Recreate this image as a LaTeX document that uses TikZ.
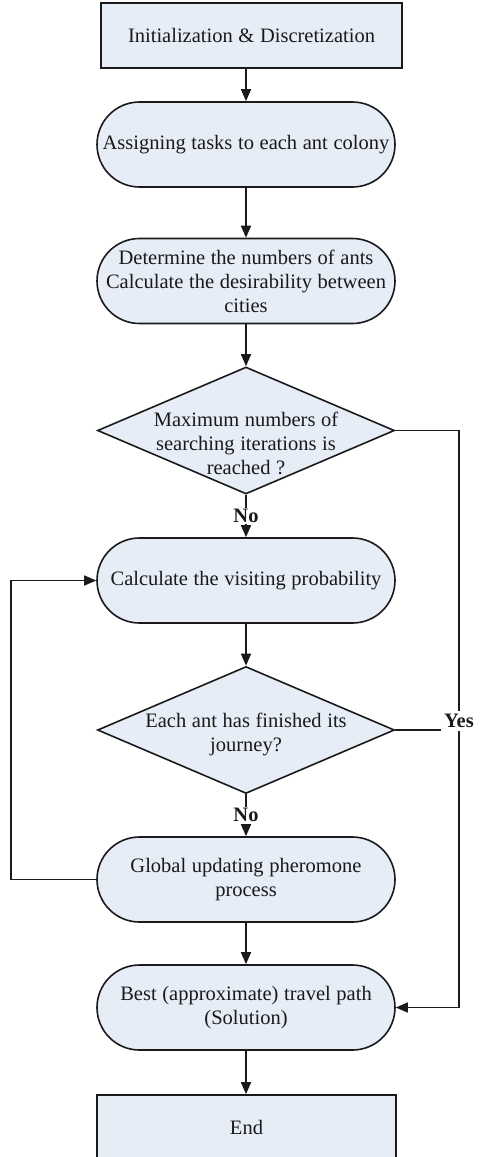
\documentclass[tikz,border=0pt]{standalone}
\usepackage{fontspec}
\setmainfont{Liberation Serif}[WordSpace=1.1]
\usetikzlibrary{arrows.meta,shapes.geometric}
\definecolor{boxfill}{RGB}{230,237,247}
\definecolor{ink}{RGB}{26,26,26}
\begin{document}
\begin{tikzpicture}[x=1pt,y=-1pt,
  font=\fontsize{20.5}{24}\selectfont,
  base/.style={draw=ink,line width=1.6pt,fill=boxfill,text=ink,inner sep=0pt,align=center},
  procbox/.style={base,rectangle,minimum width=301pt,minimum height=65pt},
  roundbox/.style={base,rectangle,rounded corners=42.5pt,minimum width=298pt,minimum height=85pt},
  decbox/.style={base,diamond,minimum width=297pt,minimum height=127pt},
  dectext/.style={text=ink,align=center,inner sep=0pt},
  flow/.style={draw=ink,line width=1.6pt,-{Triangle[length=12pt,width=10pt]}},
  plain/.style={draw=ink,line width=1.6pt},
  lbl/.style={fill=white,text=ink,inner sep=1.5pt,font=\fontsize{20.5}{24}\selectfont\bfseries}
]
\useasboundingbox (0,0) rectangle (480,1157);
\clip (0,0) rectangle (480,1157);

% process steps
\node[procbox] (init) at (251.5,35.5) {Initialization \& Discretization};
\node[roundbox] (assign) at (246,144.5) {Assigning tasks to each ant colony};
\node[roundbox] (ants) at (246,281) {Determine the numbers of ants\\Calculate the desirability between\\cities};
\node[decbox] (maxit) at (246,430.5) {};
\node[dectext] at ([yshift=-13pt]maxit.center) {Maximum numbers of\\searching iterations is\\reached ?};
\node[roundbox] (prob) at (246,580.5) {Calculate the visiting probability};
\node[decbox] (done) at (246,730) {};
\node[dectext] at ([yshift=-4pt]done.center) {Each ant has finished its\\journey?};
\node[roundbox] (update) at (246,879.5) {Global updating pheromone\\process};
\node[roundbox] (best) at (246,1007.5) {Best (approximate) travel path\\(Solution)};
\node[procbox,minimum width=299pt,minimum height=64pt] (stop) at (246.5,1127) {End};

% side rails
\coordinate (rail) at (459,0);
\coordinate (loop) at (11,0);

% main flow
\draw[flow] (assign.north |- init.south) -- (assign.north);
\draw[flow] (assign) -- (ants);
\draw[flow] (ants) -- (maxit);
\draw[flow] (maxit.south) -- node[lbl] {No} (prob.north);
\draw[flow] (prob) -- (done);
\draw[flow] (done.south) -- node[lbl] {No} (update.north);
\draw[flow] (update) -- (best);
\draw[flow] (best.south) -- (best.south |- stop.north);

% exit when the iteration limit is reached
\draw[flow] (maxit.east) -- (maxit.east -| rail) -- (best.east -| rail) -- (best.east);
\draw[plain] (done.east) -- (done.east -| rail);
\node[lbl,inner sep=3pt] at ([yshift=9pt]done.east -| rail) {Yes};

% loop back for the next iteration
\draw[flow] (update.west) -- (update.west -| loop) -- (prob.west -| loop) -- (prob.west);
\end{tikzpicture}
\end{document}
